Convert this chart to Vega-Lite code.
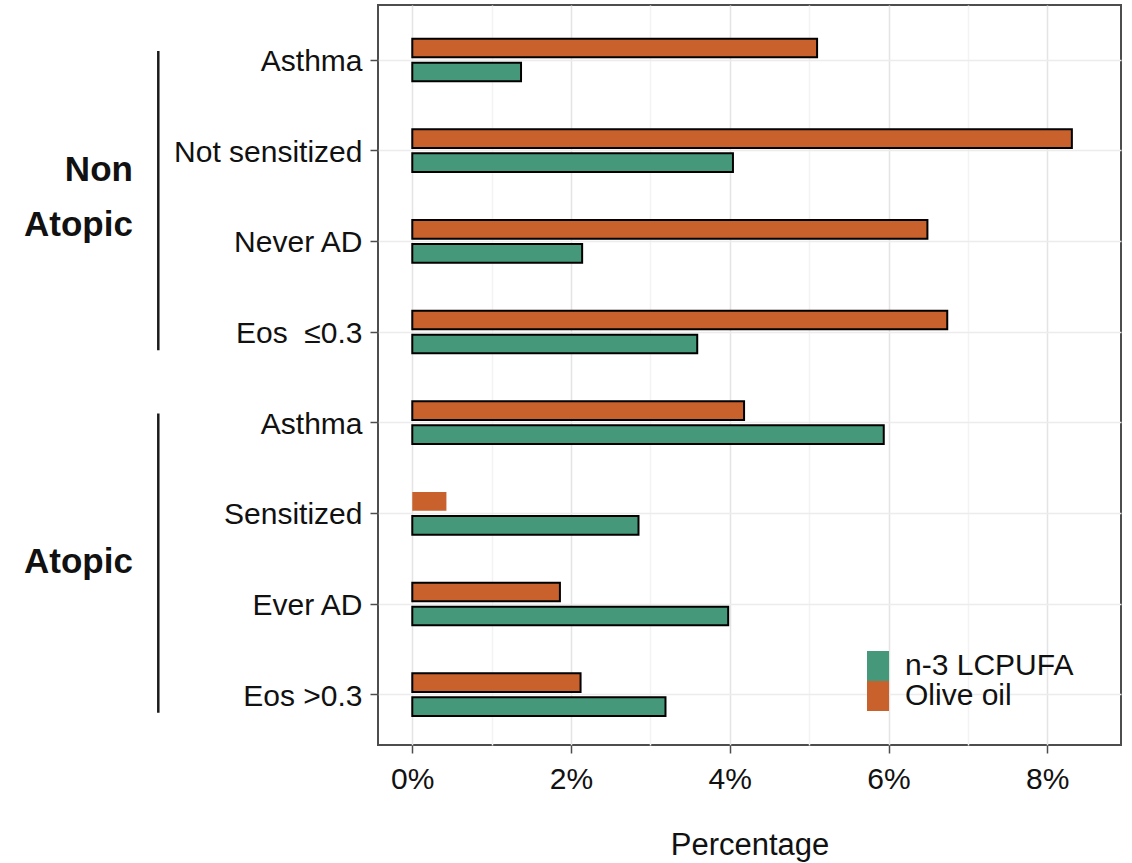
{
  "$schema": "https://vega.github.io/schema/vega-lite/v6.json",
  "width": 743,
  "height": 740,
  "autosize": {"type": "none"},
  "padding": {"left": 378, "top": 5, "right": 11, "bottom": 118},
  "background": "white",
  "config": {
    "font": "Liberation Sans",
    "view": {"stroke": "#4d4d4d", "strokeWidth": 2},
    "axis": {
      "domain": false,
      "labelColor": "#111111",
      "titleColor": "#111111",
      "tickColor": "#4d4d4d",
      "tickWidth": 1.5,
      "tickSize": 8,
      "gridColor": "#e6e6e6",
      "gridWidth": 1.5,
      "labelLimit": 0
    },
    "text": {"lineBreak": "\n"}
  },
  "datasets": {
    "bars": [
      {"row": "Non Atopic|Asthma", "treatment": "Olive oil", "pct": 0.0510},
      {"row": "Non Atopic|Asthma", "treatment": "n-3 LCPUFA", "pct": 0.0137},
      {"row": "Non Atopic|Not sensitized", "treatment": "Olive oil", "pct": 0.0831},
      {"row": "Non Atopic|Not sensitized", "treatment": "n-3 LCPUFA", "pct": 0.0404},
      {"row": "Non Atopic|Never AD", "treatment": "Olive oil", "pct": 0.0649},
      {"row": "Non Atopic|Never AD", "treatment": "n-3 LCPUFA", "pct": 0.0214},
      {"row": "Non Atopic|Eos\u00a0\u00a0≤0.3", "treatment": "Olive oil", "pct": 0.0674},
      {"row": "Non Atopic|Eos\u00a0\u00a0≤0.3", "treatment": "n-3 LCPUFA", "pct": 0.0359},
      {"row": "Atopic|Asthma", "treatment": "Olive oil", "pct": 0.0418},
      {"row": "Atopic|Asthma", "treatment": "n-3 LCPUFA", "pct": 0.0594},
      {"row": "Atopic|Sensitized", "treatment": "Olive oil", "pct": 0.0043},
      {"row": "Atopic|Sensitized", "treatment": "n-3 LCPUFA", "pct": 0.0285},
      {"row": "Atopic|Ever AD", "treatment": "Olive oil", "pct": 0.0186},
      {"row": "Atopic|Ever AD", "treatment": "n-3 LCPUFA", "pct": 0.0398},
      {"row": "Atopic|Eos >0.3", "treatment": "Olive oil", "pct": 0.0212},
      {"row": "Atopic|Eos >0.3", "treatment": "n-3 LCPUFA", "pct": 0.0319}
    ],
    "groups": [
      {"label": "Non\nAtopic", "mid": "Non Atopic|Not sensitized", "first": "Non Atopic|Asthma", "last": "Non Atopic|Eos\u00a0\u00a0≤0.3"},
      {"label": "Atopic", "mid": "Atopic|Sensitized", "first": "Atopic|Asthma", "last": "Atopic|Eos >0.3"}
    ]
  },
  "layer": [
    {
      "data": {"name": "bars"},
      "mark": {"type": "bar", "stroke": "black", "strokeWidth": 2},
      "encoding": {
        "y": {
          "field": "row",
          "type": "nominal",
          "scale": {
            "domain": [
              "Non Atopic|Asthma", "Non Atopic|Not sensitized", "Non Atopic|Never AD", "Non Atopic|Eos\u00a0\u00a0≤0.3",
              "Atopic|Asthma", "Atopic|Sensitized", "Atopic|Ever AD", "Atopic|Eos >0.3"
            ],
            "paddingInner": 0,
            "paddingOuter": 0.081,
            "align": 0.66
          },
          "axis": {
            "title": null,
            "labelExpr": "split(datum.label, '|')[1]",
            "labelFontSize": 30,
            "labelPadding": 8,
            "labelOffset": 2,
            "labelLimit": 0,
            "bandPosition": 0.5,
            "grid": true,
            "gridColor": "#ececec"
          }
        },
        "yOffset": {
          "field": "treatment",
          "sort": ["Olive oil", "n-3 LCPUFA"],
          "scale": {"paddingInner": 0.222, "paddingOuter": 1.125}
        },
        "x": {
          "field": "pct",
          "type": "quantitative",
          "scale": {"domain": [-0.00432, 0.08929], "nice": false, "zero": false},
          "axis": {
            "title": "Percentage",
            "titleFontSize": 31,
            "titleFontWeight": "normal",
            "titlePadding": 36,
            "values": [0, 0.01, 0.02, 0.03, 0.04, 0.05, 0.06, 0.07, 0.08],
            "labelExpr": "round(datum.value * 100) % 2 == 0 ? format(datum.value, '.0%') : ''",
            "labelFontSize": 30,
            "labelPadding": 11,
            "tickOpacity": {"condition": {"test": "round(datum.value * 100) % 2 == 1", "value": 0}, "value": 1},
            "gridColor": {"condition": {"test": "round(datum.value * 100) % 2 == 1", "value": "#f3f3f3"}, "value": "#e4e4e4"}
          }
        },
        "color": {
          "field": "treatment",
          "type": "nominal",
          "scale": {"domain": ["n-3 LCPUFA", "Olive oil"], "range": ["#45997a", "#c8612b"]},
          "legend": {
            "title": null,
            "orient": "none",
            "legendX": 485,
            "legendY": 646,
            "symbolType": "M-0.8,-1.09H0.8V1.09H-0.8Z",
            "symbolSize": 756,
            "symbolStrokeWidth": 0,
            "symbolOpacity": 1,
            "labelFontSize": 30,
            "labelColor": "#111111",
            "labelOffset": 12,
            "labelLimit": 0,
            "rowPadding": 0
          }
        },
        "strokeOpacity": {
          "condition": {"test": "datum.row === 'Atopic|Sensitized' && datum.treatment === 'Olive oil'", "value": 0},
          "value": 1
        }
      }
    },
    {
      "data": {"name": "groups"},
      "mark": {"type": "rule", "stroke": "#1a1a1a", "strokeWidth": 2.5},
      "encoding": {
        "x": {"datum": -0.032, "type": "quantitative"},
        "y": {"field": "first", "type": "nominal", "bandPosition": 0.4},
        "y2": {"field": "last", "bandPosition": 0.7}
      }
    },
    {
      "data": {"name": "groups"},
      "transform": [{"filter": "datum.first === 'Non Atopic|Asthma'"}],
      "mark": {"type": "text", "align": "right", "baseline": "middle", "fontSize": 35, "fontWeight": "bold", "lineHeight": 55, "color": "#111111"},
      "encoding": {
        "x": {"datum": -0.0352, "type": "quantitative"},
        "y": {"field": "mid", "type": "nominal", "bandPosition": 0.713},
        "text": {"field": "label"}
      }
    },
    {
      "data": {"name": "groups"},
      "transform": [{"filter": "datum.first === 'Atopic|Asthma'"}],
      "mark": {"type": "text", "align": "right", "baseline": "middle", "fontSize": 35, "fontWeight": "bold", "color": "#111111"},
      "encoding": {
        "x": {"datum": -0.0352, "type": "quantitative"},
        "y": {"field": "mid", "type": "nominal", "bandPosition": 1.04},
        "text": {"field": "label"}
      }
    }
  ]
}
